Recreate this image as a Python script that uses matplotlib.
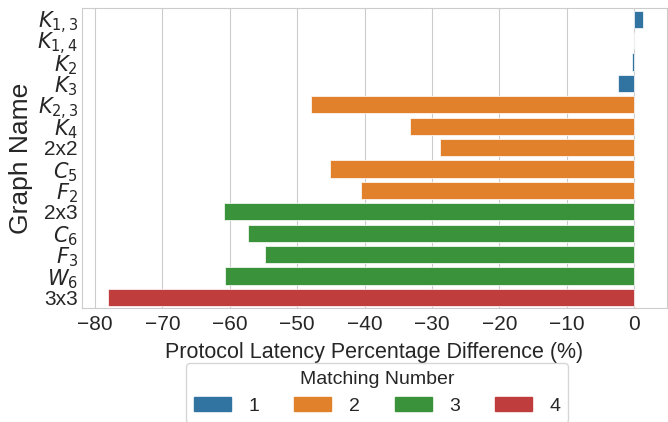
import matplotlib
matplotlib.use("Agg")
import matplotlib.pyplot as plt
import matplotlib.patches as mpatches
import seaborn as sns

graphs = [r"$K_{1,3}$", r"$K_{1,4}$", r"$K_2$", r"$K_3$", r"$K_{2,3}$", r"$K_4$", "2x2",
          r"$C_5$", r"$F_2$", "2x3", r"$C_6$", r"$F_3$", r"$W_6$", "3x3"]
diffs = [1.3, 0.0, -0.3, -2.4, -47.9, -33.2, -28.8, -45.1, -40.5, -60.9, -57.3, -54.8, -60.7, -78.0]
matching = [1, 1, 1, 1, 2, 2, 2, 2, 2, 3, 3, 3, 3, 4]
levels = [1, 2, 3, 4]

sns.set_style("whitegrid")
plt.rcParams['font.family'] = ['Liberation Sans', 'DejaVu Sans']
palette = sns.color_palette("tab10", 4, desat=0.75)

fig, ax = plt.subplots(figsize=(6.68, 4.22), dpi=100)
ypos = list(range(len(graphs)))
colors = [palette[levels.index(m)] for m in matching]
ax.barh(ypos, diffs, height=0.8, color=colors, edgecolor="white", linewidth=0.5)
ax.set_ylim(len(graphs) - 0.5, -0.5)
ax.set_yticks(ypos)
ax.set_yticklabels(graphs, fontsize=15)
ax.set_xlim(-81.9, 4.84)
ax.set_xticks([-80, -70, -60, -50, -40, -30, -20, -10, 0])
ax.set_xticklabels(["\u221280", "\u221270", "\u221260", "\u221250", "\u221240", "\u221230",
                    "\u221220", "\u221210", "0"], fontsize=15)
ax.grid(axis="y", visible=False)
ax.tick_params(axis="y", length=0, pad=3)
ax.tick_params(axis="x", length=0, pad=5)
ax.set_xlabel("Protocol Latency Percentage Difference (%)", fontsize=15.5, labelpad=6)
ax.set_ylabel("Graph Name", fontsize=19, labelpad=3)

handles = [mpatches.Patch(color=palette[i], label=str(l)) for i, l in enumerate(levels)]
leg = ax.legend(handles=handles, title="Matching Number", ncol=4, loc="upper center",
                bbox_to_anchor=(0.505, -0.15), fontsize=14, title_fontsize=14,
                columnspacing=1.8, handlelength=1.9, handletextpad=0.9, frameon=True)

plt.subplots_adjust(left=0.123, right=0.998, top=0.98, bottom=0.27)
fig.savefig("out.png", dpi=100)
